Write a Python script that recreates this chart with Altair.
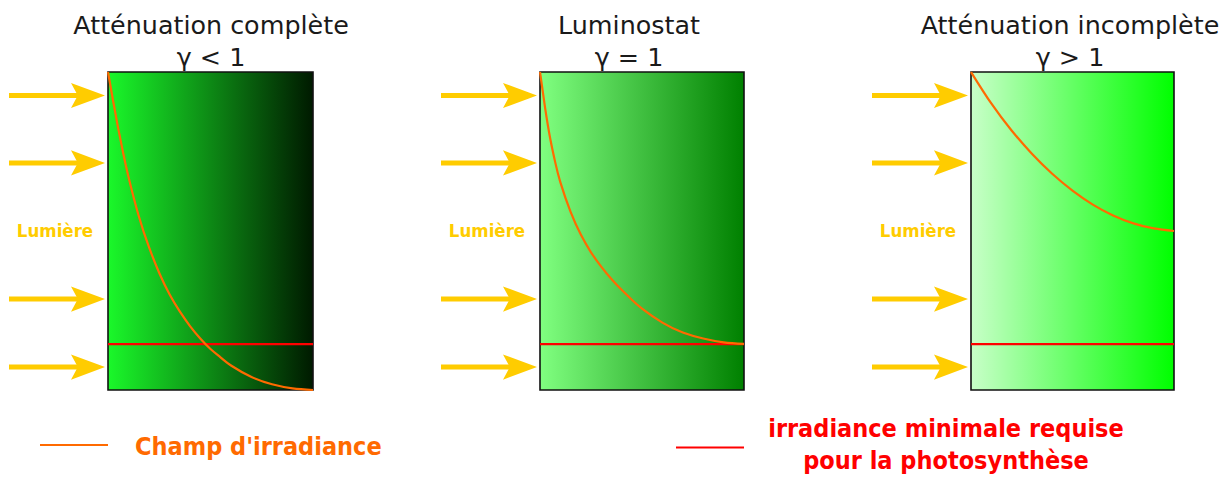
import altair as alt
import pandas as pd

# ---------------- data ----------------
depth_complete = [0, 0.025, 0.05, 0.075, 0.1, 0.15, 0.2, 0.25, 0.3, 0.35, 0.4, 0.45, 0.5, 0.55, 0.6, 0.7, 0.8, 0.9, 1.0]
irr_complete = [1.0, 0.909, 0.822, 0.742, 0.670, 0.547, 0.449, 0.368, 0.301, 0.247, 0.201, 0.162, 0.129, 0.102, 0.077, 0.041, 0.018, 0.005, 0.0]

depth_luminostat = [0, 0.025, 0.05, 0.075, 0.1, 0.15, 0.2, 0.25, 0.3, 0.35, 0.4, 0.45, 0.5, 0.6, 0.7, 0.8, 0.9, 1.0]
irr_luminostat = [1.0, 0.887, 0.791, 0.715, 0.653, 0.560, 0.489, 0.433, 0.388, 0.349, 0.315, 0.284, 0.256, 0.212, 0.181, 0.162, 0.150, 0.145]

depth_incomplete = [0, 0.1, 0.2, 0.3, 0.4, 0.5, 0.6, 0.7, 0.8, 0.9, 1.0]
irr_incomplete = [1.0, 0.901, 0.816, 0.743, 0.680, 0.627, 0.583, 0.549, 0.524, 0.508, 0.5]

threshold = 0.144
arrow_levels = [0.926, 0.714, 0.286, 0.072]

titles = ["Atténuation complète", "Luminostat", "Atténuation incomplète"]
gammas = ["γ < 1", "γ = 1", "γ > 1"]
light_label = "Lumière"
legend_curve = "Champ d'irradiance"
legend_min = ["irradiance minimale requise", "pour la photosynthèse"]

# ---------------- layout / style ----------------
box_left = [108, 540, 971]
box_width = [205, 204, 203]
box_top, box_bottom = 72, 390
title_x = [211, 629, 1070]
gradients = [("#1af82a", "#001a00"), ("#80ff80", "#008000"), ("#c8ffc8", "#00ff00")]
curves = [(depth_complete, irr_complete), (depth_luminostat, irr_luminostat),
          (depth_incomplete, irr_incomplete)]

ORANGE = "#ff6a00"
RED = "#ff0000"
YELLOW = "#ffcc00"
BOLD_FONT = "DejaVu Sans Condensed, DejaVu Sans"

X = alt.Scale(domain=[8, 1224])
Y = alt.Scale(domain=[477, 8])


def ypos(level):
    return box_bottom - level * (box_bottom - box_top)


def xy(chart):
    return chart.encode(x=alt.X("x:Q", scale=X, axis=None), y=alt.Y("y:Q", scale=Y, axis=None))


layers = []
for p in range(3):
    L, W = box_left[p], box_width[p]
    # gradient box
    box = pd.DataFrame({"x": [L], "x2": [L + W], "y": [box_top], "y2": [box_bottom]})
    layers.append(
        alt.Chart(box).mark_rect(
            fill=alt.LinearGradient(
                gradient="linear", x1=0, x2=1, y1=0, y2=0,
                stops=[alt.GradientStop(color=gradients[p][0], offset=0),
                       alt.GradientStop(color=gradients[p][1], offset=1)]),
            stroke="#111111", strokeWidth=1.6,
        ).encode(x=alt.X("x:Q", scale=X, axis=None), x2="x2:Q",
                 y=alt.Y("y:Q", scale=Y, axis=None), y2="y2:Q")
    )
    # threshold line
    thr = pd.DataFrame({"x": [L, L + W], "y": [ypos(threshold)] * 2})
    layers.append(xy(alt.Chart(thr).mark_line(color=RED, strokeWidth=2.2)))
    # irradiance curve
    dd, vv = curves[p]
    cdf = pd.DataFrame({"x": [L + d * W for d in dd], "y": [ypos(v) for v in vv],
                        "o": list(range(len(dd)))})
    layers.append(
        xy(alt.Chart(cdf).mark_line(color=ORANGE, strokeWidth=2.2, interpolate="natural")).encode(
            order="o:Q")
    )
    # arrows
    for lv in arrow_levels:
        yy = ypos(lv)
        shaft = pd.DataFrame({"x": [L - 99, L - 25], "y": [yy, yy]})
        layers.append(xy(alt.Chart(shaft).mark_line(color=YELLOW, strokeWidth=5)))
    heads = pd.DataFrame({"x": [L - 20] * 4, "y": [ypos(lv) for lv in arrow_levels]})
    layers.append(xy(alt.Chart(heads).mark_point(
        shape="M1,0 L-1,-0.74 L-0.6,0 L-1,0.74 Z", size=1156, filled=True,
        color=YELLOW, opacity=1, strokeWidth=0)))
    # light label
    lab = pd.DataFrame({"x": [L - 53], "y": [237], "t": [light_label]})
    layers.append(xy(alt.Chart(lab).mark_text(
        font=BOLD_FONT, fontWeight="bold", fontSize=18.5, color=YELLOW,
        align="center", baseline="alphabetic")).encode(text="t:N"))
    # titles
    tdf = pd.DataFrame({"x": [title_x[p]] * 2, "y": [33.5, 65.5], "t": [titles[p], gammas[p]]})
    layers.append(xy(alt.Chart(tdf).mark_text(
        font="DejaVu Sans", fontSize=25.4, color="#1a1a1a",
        align="center", baseline="alphabetic")).encode(text="t:N"))

# legend
lg1 = pd.DataFrame({"x": [40, 108], "y": [445, 445]})
layers.append(xy(alt.Chart(lg1).mark_line(color=ORANGE, strokeWidth=2)))
lt1 = pd.DataFrame({"x": [135], "y": [455], "t": [legend_curve]})
layers.append(xy(alt.Chart(lt1).mark_text(
    font=BOLD_FONT, fontWeight="bold", fontSize=25, color=ORANGE,
    align="left", baseline="alphabetic")).encode(text="t:N"))
lg2 = pd.DataFrame({"x": [676, 744], "y": [447.5, 447.5]})
layers.append(xy(alt.Chart(lg2).mark_line(color=RED, strokeWidth=2)))
lt2 = pd.DataFrame({"x": [946, 946], "y": [436.8, 468.5], "t": legend_min})
layers.append(xy(alt.Chart(lt2).mark_text(
    font=BOLD_FONT, fontWeight="bold", fontSize=25, color=RED,
    align="center", baseline="alphabetic")).encode(text="t:N"))

chart = alt.layer(*layers).properties(
    width=1216, height=469, padding=0, autosize="none", background="white"
).configure_view(stroke=None)

chart.save("out.html", embed_options={"renderer": "svg", "actions": False})
